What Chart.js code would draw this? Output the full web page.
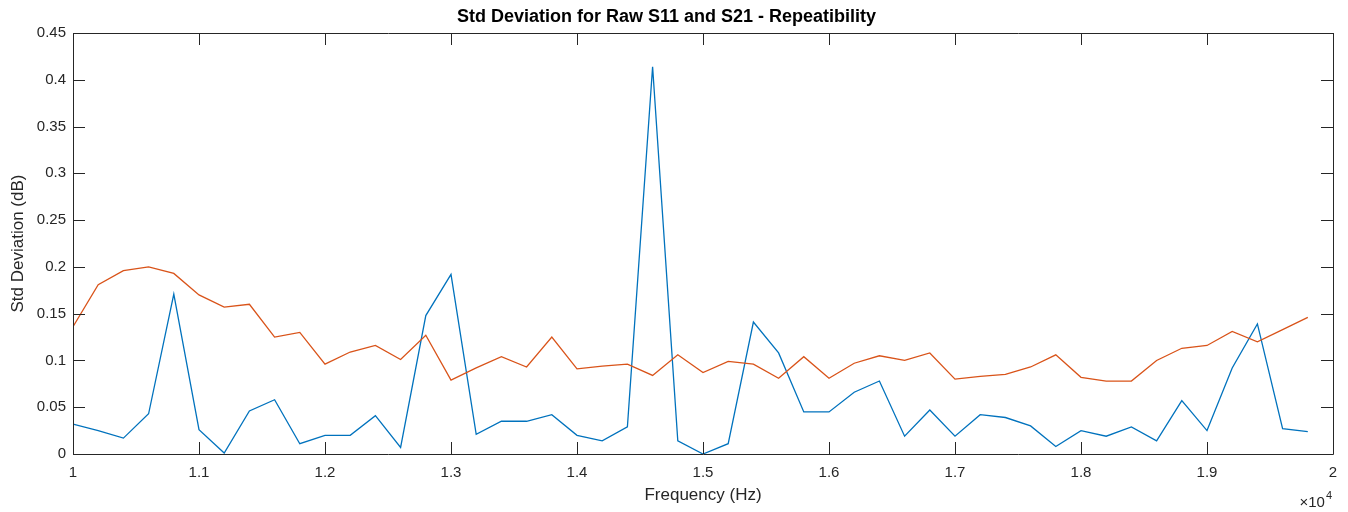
<!DOCTYPE html>
<html>
<head>
<meta charset="utf-8">
<script src="https://cdn.jsdelivr.net/npm/chart.js@4"></script>
<style>
  html, body { margin: 0; padding: 0; background: #fff; }
  #wrap { width: 1348px; height: 512px; }
</style>
</head>
<body>
<div id="wrap"><canvas id="stdChart" width="1348" height="512"></canvas></div>
<script>
// frequency points (Hz)
var freqHz = [10000, 10200, 10400, 10600, 10800, 11000, 11200, 11400, 11600, 11800,
  12000, 12200, 12400, 12600, 12800, 13000, 13200, 13400, 13600, 13800,
  14000, 14200, 14400, 14600, 14800, 15000, 15200, 15400, 15600, 15800,
  16000, 16200, 16400, 16600, 16800, 17000, 17200, 17400, 17600, 17800,
  18000, 18200, 18400, 18600, 18800, 19000, 19200, 19400, 19600, 19800];

// std deviation (dB), blue trace
var stdS11 = [0.032, 0.025, 0.017, 0.043, 0.171, 0.026, 0.001, 0.046, 0.058, 0.011,
  0.020, 0.020, 0.041, 0.007, 0.148, 0.192, 0.021, 0.035, 0.035, 0.042,
  0.020, 0.014, 0.029, 0.414, 0.014, 0.000, 0.011, 0.141, 0.108, 0.045,
  0.045, 0.066, 0.078, 0.019, 0.047, 0.019, 0.042, 0.039, 0.030, 0.008,
  0.025, 0.019, 0.029, 0.014, 0.057, 0.025, 0.092, 0.139, 0.027, 0.024];

// std deviation (dB), orange trace
var stdS21 = [0.136, 0.181, 0.196, 0.200, 0.193, 0.170, 0.157, 0.160, 0.125, 0.130,
  0.096, 0.109, 0.116, 0.101, 0.127, 0.079, 0.092, 0.104, 0.093, 0.125,
  0.091, 0.094, 0.096, 0.084, 0.106, 0.087, 0.099, 0.096, 0.081, 0.104,
  0.081, 0.097, 0.105, 0.100, 0.108, 0.080, 0.083, 0.085, 0.093, 0.106,
  0.082, 0.078, 0.078, 0.100, 0.113, 0.116, 0.131, 0.120, 0.133, 0.146];

var xMin = 10000, xMax = 20000, xStep = 1000;
var yMin = 0, yMax = 0.45, yStep = 0.05;

var axisColor = "#262626";
var fontFamily = "'Liberation Sans', Arial, Helvetica, sans-serif";

function toPoints(values) {
  return freqHz.map(function (f, i) {
    return { x: f, y: values[i] };
  });
}

// MATLAB-style box with inward ticks and the x10^4 exponent
var matlabAxes = {
  id: "matlabAxes",
  afterDatasetsDraw: function (chart) {
    var ctx = chart.ctx;
    var a = chart.chartArea;
    var xs = chart.scales.x;
    var ys = chart.scales.y;
    var tickLen = 12;
    ctx.save();
    ctx.strokeStyle = axisColor;
    ctx.lineWidth = 1;
    ctx.beginPath();
    ctx.rect(Math.round(a.left) + 0.5, Math.round(a.top) + 0.5,
      Math.round(a.right - a.left), Math.round(a.bottom - a.top));
    xs.ticks.forEach(function (t) {
      var px = Math.round(xs.getPixelForValue(t.value)) + 0.5;
      ctx.moveTo(px, a.bottom);
      ctx.lineTo(px, a.bottom - tickLen);
      ctx.moveTo(px, a.top);
      ctx.lineTo(px, a.top + tickLen);
    });
    ys.ticks.forEach(function (t) {
      var py = Math.round(ys.getPixelForValue(t.value)) + 0.5;
      ctx.moveTo(a.left, py);
      ctx.lineTo(a.left + tickLen, py);
      ctx.moveTo(a.right, py);
      ctx.lineTo(a.right - tickLen, py);
    });
    ctx.stroke();

    ctx.fillStyle = axisColor;
    ctx.textBaseline = "alphabetic";
    ctx.font = "11px " + fontFamily;
    ctx.textAlign = "right";
    var expRight = a.right - 1;
    ctx.fillText("4", expRight, 499);
    var w4 = ctx.measureText("4").width;
    ctx.font = "15px " + fontFamily;
    ctx.fillText("\u00d710", expRight - w4 - 1, 507);
    ctx.restore();
  },
};

new Chart(document.getElementById("stdChart"), {
  type: "line",
  data: {
    datasets: [
      {
        label: "S11",
        data: toPoints(stdS11),
        borderColor: "#0072BD",
        borderWidth: 1.3,
        pointRadius: 0,
        tension: 0,
        fill: false,
        order: 1,
      },
      {
        label: "S21",
        data: toPoints(stdS21),
        borderColor: "#D95319",
        borderWidth: 1.3,
        pointRadius: 0,
        tension: 0,
        fill: false,
        order: 0,
      },
    ],
  },
  options: {
    responsive: false,
    animation: false,
    events: [],
    layout: { padding: { left: 0, right: 15, top: 0, bottom: 0 } },
    plugins: {
      legend: { display: false },
      tooltip: { enabled: false },
      title: {
        display: true,
        text: "Std Deviation for Raw S11 and S21 - Repeatibility",
        color: "#000",
        font: { family: fontFamily, size: 18, weight: "bold", lineHeight: 1.2 },
        padding: { top: 6, bottom: 5.4 },
      },
    },
    scales: {
      x: {
        type: "linear",
        min: xMin,
        max: xMax,
        grid: { display: false, drawTicks: false },
        border: { display: false },
        ticks: {
          stepSize: xStep,
          color: axisColor,
          padding: 10,
          maxRotation: 0,
          font: { family: fontFamily, size: 15 },
          callback: function (v) {
            return String(Math.round(v / 1000) / 10);
          },
        },
        title: {
          display: true,
          text: "Frequency (Hz)",
          color: axisColor,
          font: { family: fontFamily, size: 17, lineHeight: 1.2 },
          padding: { top: 0, bottom: 6.8 },
        },
        afterFit: function (scale) {
          scale.height = 58;
        },
      },
      y: {
        min: yMin,
        max: yMax,
        grid: { display: false, drawTicks: false },
        border: { display: false },
        ticks: {
          stepSize: yStep,
          color: axisColor,
          padding: 7,
          font: { family: fontFamily, size: 15 },
          callback: function (v) {
            return String(Math.round(v * 100) / 100);
          },
        },
        title: {
          display: true,
          text: "Std Deviation (dB)",
          color: axisColor,
          font: { family: fontFamily, size: 17, lineHeight: 1.2 },
          padding: { top: 7.8, bottom: 0 },
        },
        afterFit: function (scale) {
          scale.width = 73;
        },
      },
    },
  },
  plugins: [matlabAxes],
});
</script>
</body>
</html>
